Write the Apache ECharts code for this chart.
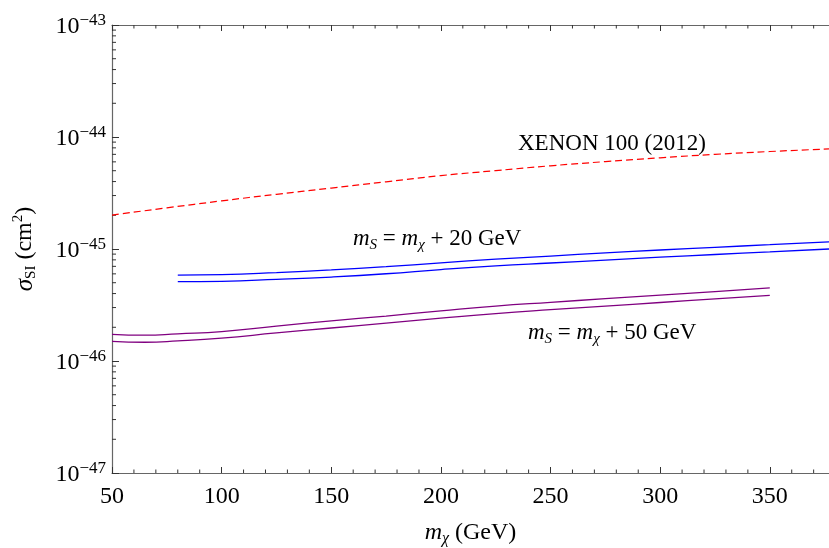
<!DOCTYPE html>
<html>
<head>
<meta charset="utf-8">
<script src="https://cdn.jsdelivr.net/npm/echarts@6/dist/echarts.min.js"></script>
<style>html,body{margin:0;padding:0;background:#fff;}#c{width:829px;height:548px;}</style>
</head>
<body>
<div id="c"></div>
<script>
// ---- data ----
const xenonX = [50, 75, 100, 125, 150, 175, 200, 225, 250, 275, 300, 325, 350, 377];
const xenonSigma = [2.01e-45, 2.33e-45, 2.69e-45, 3.08e-45, 3.50e-45, 3.98e-45, 4.52e-45, 5.01e-45, 5.53e-45, 6.03e-45, 6.52e-45, 7.0e-45, 7.42e-45, 7.83e-45];

const ms20X = [80, 100, 125, 150, 175, 200, 225, 250, 275, 300, 325, 350, 377];
const ms20Upper = [5.85e-46, 5.91e-46, 6.16e-46, 6.50e-46, 6.95e-46, 7.53e-46, 8.11e-46, 8.65e-46, 9.23e-46, 9.80e-46, 1.035e-45, 1.094e-45, 1.16e-45];
const ms20Lower = [5.11e-46, 5.15e-46, 5.35e-46, 5.62e-46, 6.01e-46, 6.55e-46, 7.06e-46, 7.50e-46, 7.96e-46, 8.45e-46, 8.93e-46, 9.42e-46, 1.0e-45];

const ms50X = [50, 65, 80, 100, 125, 150, 175, 200, 225, 250, 275, 300, 325, 350];
const ms50Upper = [1.73e-46, 1.70e-46, 1.75e-46, 1.83e-46, 2.05e-46, 2.28e-46, 2.52e-46, 2.80e-46, 3.09e-46, 3.34e-46, 3.60e-46, 3.87e-46, 4.17e-46, 4.49e-46];
const ms50Lower = [1.50e-46, 1.47e-46, 1.51e-46, 1.60e-46, 1.78e-46, 1.97e-46, 2.18e-46, 2.41e-46, 2.65e-46, 2.87e-46, 3.09e-46, 3.33e-46, 3.59e-46, 3.86e-46];

const yExponents = [-47, -46, -45, -44, -43];
const xTickValues = [50, 100, 150, 200, 250, 300, 350];
const xMin = 50, xMax = 377;

// ---- helpers ----
const FONT = 'Liberation Serif';
function pairs(xs, ys) { return xs.map((x, i) => [x, Math.log10(ys[i])]); }
const minorY = [];
for (let e = yExponents[0]; e < yExponents[yExponents.length - 1]; e++) {
  for (let m = 2; m <= 9; m++) minorY.push([xMin, Math.log10(m) + e]);
}
const minorX = [];
for (let v = 60; v < xMax; v += 10) if (v % 50 !== 0) minorX.push([v, yExponents[0]]);

const chart = echarts.init(document.getElementById('c'), null, {renderer: 'canvas'});

const axisLineStyle = {color: '#666', width: 1.2};
const tickStyle = {color: '#333', width: 1};

function xAxisDef(pos, show) {
  return {
    type: 'value', position: pos, min: xMin, max: xMax, interval: 50,
    axisLine: {show: true, onZero: false, lineStyle: axisLineStyle},
    axisTick: {show: true, inside: true, length: 6, lineStyle: tickStyle},
    splitLine: {show: false},
    axisLabel: show ? {
      show: true, margin: 12, fontFamily: FONT, fontSize: 24, color: '#000',
      showMaxLabel: false,
      formatter: v => (xTickValues.indexOf(v) >= 0 ? String(v) : '')
    } : {show: false},
    name: show ? '{i|m}{s|χ}{t| (GeV)}' : '',
    nameLocation: 'middle', nameGap: 46,
    nameTextStyle: {
      fontFamily: FONT, color: '#000',
      rich: {
        i: {fontFamily: FONT, fontStyle: 'italic', fontSize: 24, lineHeight: 28, color: '#000'},
        s: {fontFamily: FONT, fontStyle: 'italic', fontSize: 16, lineHeight: 16, verticalAlign: 'bottom', color: '#000'},
        t: {fontFamily: FONT, fontSize: 24, lineHeight: 28, color: '#000'}
      }
    }
  };
}

const mathRich = {
  i: {fontFamily: FONT, fontStyle: 'italic', fontSize: 23, lineHeight: 28},
  s: {fontFamily: FONT, fontStyle: 'italic', fontSize: 15, lineHeight: 15, verticalAlign: 'bottom'},
  t: {fontFamily: FONT, fontSize: 23, lineHeight: 28}
};

const option = {
  animation: false,
  backgroundColor: '#fff',
  grid: {left: 112, top: 25, right: 0, bottom: 75, containLabel: false, outerBoundsMode: 'none'},
  xAxis: [xAxisDef('bottom', true), xAxisDef('top', false)],
  yAxis: [{
    type: 'value', min: -47, max: -43, interval: 1,
    axisLine: {show: true, onZero: false, lineStyle: axisLineStyle},
    axisTick: {show: true, inside: true, length: 7, lineStyle: tickStyle},
    splitLine: {show: false},
    axisLabel: {
      margin: 6, color: '#000', padding: [3, 0, 0, 0],
      formatter: v => '{b|10}{e|−' + Math.abs(Math.round(v)) + '}',
      rich: {
        b: {fontFamily: FONT, fontSize: 24, lineHeight: 28, color: '#000'},
        e: {fontFamily: FONT, fontSize: 17, lineHeight: 17, verticalAlign: 'top', color: '#000'}
      }
    },
    name: '{i|σ}{s|SI}{t| (cm}{p|2}{t|)}',
    nameLocation: 'middle', nameGap: 73, nameRotate: 90,
    nameTextStyle: {
      color: '#000',
      rich: {
        i: {fontFamily: FONT, fontStyle: 'italic', fontSize: 25, lineHeight: 28, color: '#000'},
        s: {fontFamily: FONT, fontSize: 15, lineHeight: 15, verticalAlign: 'bottom', color: '#000'},
        t: {fontFamily: FONT, fontSize: 24, lineHeight: 28, color: '#000'},
        p: {fontFamily: FONT, fontSize: 15, lineHeight: 15, verticalAlign: 'top', color: '#000'}
      }
    }
  }],
  series: [
    {
      type: 'line', name: 'XENON 100 (2012)', data: pairs(xenonX, xenonSigma),
      showSymbol: false, smooth: true, silent: true,
      lineStyle: {color: '#ff0000', width: 1.2, type: [7, 4]}
    },
    {
      type: 'line', data: pairs(ms20X, ms20Upper), showSymbol: false, smooth: true, silent: true,
      lineStyle: {color: '#0000ff', width: 1.3}
    },
    {
      type: 'line', data: pairs(ms20X, ms20Lower), showSymbol: false, smooth: true, silent: true,
      lineStyle: {color: '#0000ff', width: 1.3}
    },
    {
      type: 'line', data: pairs(ms50X, ms50Upper), showSymbol: false, smooth: true, silent: true,
      lineStyle: {color: '#800080', width: 1.3}
    },
    {
      type: 'line', data: pairs(ms50X, ms50Lower), showSymbol: false, smooth: true, silent: true,
      lineStyle: {color: '#800080', width: 1.3}
    },
    {
      type: 'custom', silent: true, clip: false, data: minorY,
      renderItem: function (params, api) {
        const p = api.coord([api.value(0), api.value(1)]);
        return {type: 'line', shape: {x1: p[0], y1: p[1], x2: p[0] + 4, y2: p[1]},
                style: {stroke: '#333', lineWidth: 1}};
      }
    },
    {
      type: 'custom', silent: true, clip: false, data: minorX,
      renderItem: function (params, api) {
        const pb = api.coord([api.value(0), yExponents[0]]);
        const pt = api.coord([api.value(0), yExponents[yExponents.length - 1]]);
        return {type: 'group', children: [
          {type: 'line', shape: {x1: pb[0], y1: pb[1], x2: pb[0], y2: pb[1] - 3.5}, style: {stroke: '#333', lineWidth: 1}},
          {type: 'line', shape: {x1: pt[0], y1: pt[1], x2: pt[0], y2: pt[1] + 3.5}, style: {stroke: '#333', lineWidth: 1}}
        ]};
      }
    }
  ],
  graphic: [
    {
      type: 'text', left: 518, top: 132,
      style: {text: 'XENON 100 (2012)', font: '23px "Liberation Serif"', fill: '#000'}
    },
    {
      type: 'text', left: 353, top: 227,
      style: {text: '{i|m}{s|S}{t| = }{i|m}{s|χ}{t| + 20 GeV}', fill: '#000', rich: mathRich}
    },
    {
      type: 'text', left: 528, top: 321,
      style: {text: '{i|m}{s|S}{t| = }{i|m}{s|χ}{t| + 50 GeV}', fill: '#000', rich: mathRich}
    }
  ]
};
chart.setOption(option);
</script>
</body>
</html>
